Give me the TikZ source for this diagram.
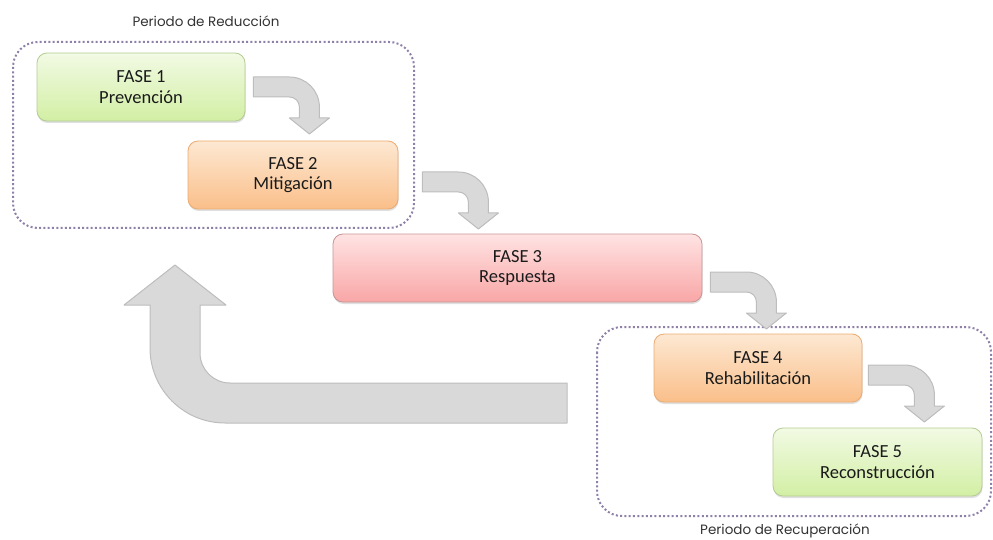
\documentclass[tikz,border=0pt]{standalone}
\usepackage{fontspec}
\setmainfont{Carlito}
\newfontfamily\labelfont{Poppins}
\usetikzlibrary{calc,shadows}
\definecolor{grtop}{HTML}{F2FAE4}
\definecolor{grbot}{HTML}{D2EFA4}
\definecolor{grline}{HTML}{B4CC94}
\definecolor{ortop}{HTML}{FDE8D2}
\definecolor{orbot}{HTML}{FABF8A}
\definecolor{orline}{HTML}{EBAA70}
\definecolor{pktop}{HTML}{FFE3E3}
\definecolor{pkbot}{HTML}{F9A6A6}
\definecolor{pkline}{HTML}{C89494}
\definecolor{arrfill}{HTML}{D9D9D9}
\definecolor{arrline}{HTML}{BDBDBD}
\definecolor{dotcol}{HTML}{8F80A8}
\definecolor{txt}{HTML}{1A1A1A}
\tikzset{
  phase/.style={rounded corners=10pt, minimum height=68pt, align=center,
    font=\fontsize{18.5}{20.5}\selectfont, text=txt, line width=0.8pt,
    drop shadow={shadow xshift=0.5pt, shadow yshift=-2pt, opacity=0.25}},
  greenbox/.style={phase, draw=grline, top color=grtop, bottom color=grbot},
  orangebox/.style={phase, draw=orline, top color=ortop, bottom color=orbot},
  pinkbox/.style={phase, draw=pkline, top color=pktop, bottom color=pkbot},
  period/.style={draw=dotcol, line width=2pt, dash pattern=on 2pt off 2.3pt, rounded corners=25pt},
  periodlabel/.style={font=\labelfont\fontsize{13.5}{15}\selectfont, text=black!80},
  blockarrow/.style={fill=arrfill, draw=arrline, line width=1pt, line join=round},
  bentarr/.pic={
    \path[blockarrow] (0,0) -- (36,0) .. controls (52.57,0) and (66,13.43) .. (66,30)
      -- (66,41) -- (76,41) -- (56,57) -- (36,41) -- (46,41) -- (46,30)
      .. controls (46,24.48) and (41.52,20) .. (36,20) -- (0,20) -- cycle;
  }
}
\begin{document}
\begin{tikzpicture}[x=1pt,y=-1pt]
\useasboundingbox (0,0) rectangle (993,540);
\clip (0,0) rectangle (993,540);
% period containers
\draw[period] (13,42) rectangle (414,228);
\draw[period] (597,327) rectangle (991,516);
\node[periodlabel] (lred) at (206,21) {Periodo de Reducción};
\node[periodlabel] (lrec) at (785,531) {Periodo de Recuperación};
% return arrow
\path[blockarrow] (567,383) -- (230,383) .. controls (213.43,383) and (200,369.57) .. (200,353)
  -- (200,305) -- (226,305) -- (175,265) -- (124,305) -- (150,305) -- (150,348)
  .. controls (150,389.42) and (183.58,423) .. (225,423) -- (567,423) -- cycle;
% phases
\node[greenbox, minimum width=208pt] (f1) at (141,87) {FASE 1\\Prevención};
\node[orangebox, minimum width=210pt] (f2) at (293,175) {FASE 2\\Mitigación};
\node[pinkbox, minimum width=369pt] (f3) at (517.5,268) {FASE 3\\Respuesta};
\node[orangebox, minimum width=208pt] (f4) at (758,368) {FASE 4\\Rehabilitación};
\node[greenbox, minimum width=209pt] (f5) at (877.5,462) {FASE 5\\Reconstrucción};
% bent arrows
\pic at ($(f1.east)+(8,-10)$) {bentarr};
\pic at ($(f2.east)+(24,-3)$) {bentarr};
\pic at ($(f3.east)+(8,4)$) {bentarr};
\pic at ($(f4.east)+(6,-3)$) {bentarr};
\end{tikzpicture}
\end{document}
